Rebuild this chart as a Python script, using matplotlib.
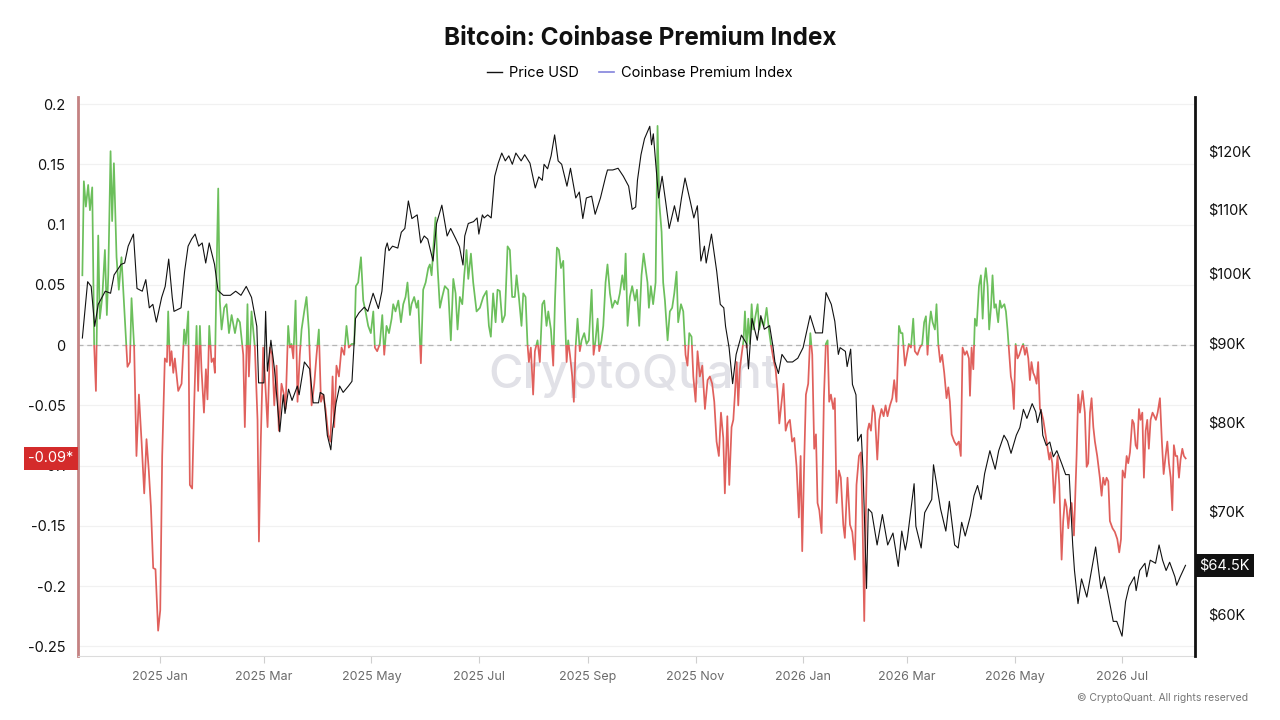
import numpy as np
import pandas as pd
import matplotlib
matplotlib.use("Agg")
import matplotlib.pyplot as plt
import matplotlib.dates as mdates
import matplotlib.transforms as mtransforms
from matplotlib.patches import Rectangle
from matplotlib.lines import Line2D
from matplotlib.ticker import FixedLocator, FuncFormatter, NullLocator

plt.rcParams["font.family"] = ["Inter", "DejaVu Sans"]

########## DATA ##########
START = pd.Timestamp("2024-11-18")

# Price USD (thousands), days since START
price_days = [
    0, 3, 5, 7, 9, 13, 16, 18, 22, 24,
    26, 29, 31, 34, 36, 38, 40, 42, 45, 47,
    49, 51, 52, 56, 58, 60, 62, 64, 66, 68,
    70, 72, 75, 77, 80, 84, 87, 90, 93, 96,
    99, 100, 103, 104, 105, 107, 109, 112, 114, 115,
    117, 119, 122, 123, 126, 129, 131, 134, 135, 137,
    139, 141, 142, 144, 146, 148, 151, 153, 155, 157,
    160, 162, 165, 168, 170, 172, 173, 174, 176, 179,
    181, 183, 185, 187, 190, 192, 194, 196, 199, 201,
    204, 207, 209, 212, 214, 216, 217, 219, 222, 224,
    225, 227, 228, 230, 232, 234, 236, 238, 240, 242,
    244, 246, 249, 251, 254, 257, 259, 261, 262, 264,
    266, 268, 270, 272, 275, 277, 279, 280, 282, 284,
    286, 289, 291, 294, 297, 298, 301, 304, 307, 310,
    312, 314, 315, 317, 319, 322, 323, 324, 327, 329,
    331, 333, 336, 338, 340, 342, 345, 347, 349, 351,
    353, 354, 357, 360, 362, 364, 365, 367, 369, 371,
    374, 377, 378, 380, 383, 385, 387, 390, 392, 393,
    395, 397, 400, 403, 406, 409, 413, 416, 420, 422,
    425, 427, 429, 430, 433, 434, 436, 437, 439, 440,
    442, 443, 445, 446, 448, 451, 454, 457, 460, 463,
    465, 467, 468, 472, 473, 476, 478, 482, 483, 487,
    490, 492, 495, 497, 499, 501, 504, 506, 508, 510,
    512, 515, 518, 520, 523, 525, 527, 530, 532, 534,
    536, 539, 541, 542, 544, 545, 547, 549, 551, 553,
    556, 558, 560, 562, 563, 565, 567, 570, 572, 575,
    578, 580, 582, 585, 587, 590, 592, 594, 597, 598,
    600, 603, 604, 606, 609, 611, 613, 615, 617, 620,
    621, 623, 626,
]
price_k = [
    90.7, 98.7, 98.0, 92.3, 95.4, 97.3, 97.0, 99.7, 101.3, 101.5,
    104.1, 106.0, 97.7, 97.3, 99.0, 94.9, 95.4, 92.9, 96.4, 98.0,
    102.1, 96.4, 94.4, 94.9, 100.2, 104.1, 105.2, 106.0, 104.1, 104.6,
    101.5, 104.6, 101.3, 97.4, 96.7, 96.7, 97.3, 96.7, 98.0, 96.4,
    92.3, 84.8, 84.8, 94.4, 86.3, 90.4, 86.6, 78.8, 83.3, 81.0,
    84.0, 82.6, 84.4, 83.3, 87.5, 86.6, 82.3, 82.3, 83.6, 83.3,
    78.4, 76.7, 79.1, 82.3, 84.4, 83.6, 84.4, 85.0, 93.4, 94.2,
    95.0, 94.4, 97.0, 94.8, 97.3, 103.7, 104.6, 103.4, 104.1, 103.8,
    106.3, 106.9, 111.4, 108.5, 109.1, 104.6, 105.7, 105.2, 101.8, 107.7,
    110.7, 105.7, 106.9, 105.2, 104.0, 101.2, 105.7, 107.7, 108.0, 108.6,
    106.0, 109.1, 108.6, 109.1, 108.6, 115.6, 117.9, 119.7, 118.3, 119.2,
    117.7, 119.7, 118.3, 119.4, 117.9, 113.6, 115.5, 114.9, 117.7, 116.9,
    119.2, 123.0, 118.3, 117.7, 113.9, 117.0, 113.6, 111.9, 112.9, 108.5,
    111.9, 112.2, 109.2, 111.9, 115.6, 116.7, 116.7, 117.0, 115.6, 113.9,
    110.0, 110.4, 114.9, 119.4, 122.3, 124.6, 121.2, 123.2, 111.9, 115.6,
    111.3, 106.9, 110.6, 108.0, 111.9, 115.3, 111.3, 108.6, 110.6, 101.8,
    104.1, 101.5, 106.0, 100.2, 95.4, 94.9, 92.3, 89.4, 84.7, 88.5,
    91.1, 89.9, 86.6, 93.4, 90.4, 93.8, 91.9, 92.4, 89.4, 87.5,
    86.0, 88.5, 87.5, 87.5, 88.0, 89.4, 93.8, 91.4, 91.4, 97.1,
    95.4, 93.0, 88.5, 89.4, 88.9, 86.9, 89.2, 84.6, 83.3, 77.7,
    78.5, 74.5, 62.3, 70.2, 69.8, 66.5, 69.6, 66.5, 67.7, 64.4,
    67.9, 66.0, 66.9, 72.9, 68.4, 66.2, 69.8, 71.2, 75.0, 70.2,
    67.9, 71.0, 66.5, 66.2, 68.8, 67.4, 69.5, 71.6, 72.7, 71.2,
    74.0, 76.6, 74.5, 76.6, 78.4, 77.7, 76.3, 78.4, 79.3, 81.5,
    80.4, 82.2, 81.2, 79.9, 81.5, 78.4, 77.2, 77.6, 75.9, 76.6,
    75.0, 73.9, 73.9, 66.5, 64.0, 60.9, 63.2, 61.5, 63.4, 66.3,
    62.3, 63.4, 61.8, 59.3, 59.3, 58.0, 61.1, 62.5, 63.4, 62.1,
    64.0, 64.7, 63.4, 65.0, 64.7, 66.5, 65.0, 64.0, 64.8, 63.4,
    62.6, 63.4, 64.5,
]

# Coinbase Premium Index, days since START
premium_days = [
    0.0, 0.85, 2.0, 3.3, 4.3, 5.6, 6.7, 7.7, 9.0, 9.9,
    11.3, 12.8, 13.9, 14.7, 16.0, 16.9, 17.9, 19.4, 20.7, 22.2,
    24.1, 25.6, 27.0, 27.9, 29.4, 30.7, 32.1, 33.6, 35.1, 36.4,
    37.7, 38.9, 40.2, 41.5, 43.0, 44.2, 45.3, 46.8, 48.0, 48.7,
    49.7, 50.6, 51.6, 52.5, 54.4, 56.3, 57.8, 58.7, 60.1, 61.0,
    62.3, 63.5, 64.8, 65.7, 66.7, 67.6, 69.0, 70.1, 71.0, 72.0,
    73.3, 74.4, 75.2, 76.2, 77.1, 78.0, 79.0, 80.5, 81.8, 83.2,
    84.7, 86.6, 88.1, 89.4, 91.3, 92.2, 93.7, 94.5, 96.0, 97.9,
    99.4, 100.2, 101.3, 102.6,
    103.6, 105.1, 106.4, 107.7, 108.9, 110.2, 111.5, 113.0, 114.4, 115.3,
    116.8, 117.8, 118.7, 119.7, 121.0, 122.1, 123.4, 124.4, 125.9, 127.2,
    128.5, 130.1, 131.6, 132.9, 134.2, 135.4, 136.7, 138.0, 139.5, 140.8,
    142.0, 142.9, 144.2, 145.6, 147.1, 148.6, 149.9, 151.2, 152.8, 154.3,
    155.2, 156.5, 158.1, 159.4, 160.7, 162.2, 163.7, 165.1, 166.0, 167.3,
    168.8, 170.2, 171.3, 172.6, 174.0, 175.5, 176.4, 177.7, 179.3, 180.8,
    182.1, 183.4, 184.5, 185.9, 186.8, 188.3, 189.7, 190.6, 192.1, 193.4,
    194.8, 196.3, 197.2, 198.2, 199.1, 200.4, 201.6, 202.9, 204.2, 205.7,
    207.6, 209.1, 210.5, 211.8,
    212.9, 214.2, 215.6, 216.7, 218.0, 219.0, 220.5, 221.8, 223.7, 225.6,
    227.5, 229.4, 230.7, 231.8, 233.1, 234.5, 235.6, 236.9, 238.3, 239.8,
    241.3, 242.6, 243.9, 245.4, 246.4, 247.7, 249.2, 250.2, 251.5, 252.6,
    253.4, 254.5, 255.8, 256.8, 258.3, 259.6, 261.0, 262.1, 263.4, 264.4,
    265.9, 267.2, 268.2, 269.3, 270.4, 271.6, 272.9, 273.8, 274.8, 275.7,
    276.7, 278.0, 278.9, 279.9, 281.0, 282.3, 283.3, 284.8, 286.1, 287.4,
    289.0, 290.1, 291.2, 292.4, 293.3, 294.6, 295.6, 296.9, 298.0, 299.4,
    300.7, 302.2, 303.7, 305.0, 306.4, 307.5, 308.3, 309.4, 310.7, 312.0,
    313.6, 314.7, 316.0, 317.3, 318.5,
    320.7, 321.5, 322.6, 323.9, 325.3, 326.4, 327.4, 328.7, 329.6, 330.6,
    332.1, 333.4, 334.7, 335.9, 337.2, 338.1, 339.7, 341.0, 342.3, 343.4,
    344.4, 345.7, 346.7, 348.0, 349.1, 350.4, 351.8, 353.3, 354.8, 356.1,
    357.4, 358.6, 359.9, 361.2, 362.4, 363.7, 364.6, 366.0, 367.1, 368.4,
    369.4, 370.3, 371.3, 372.2, 373.1, 374.1, 375.2, 376.0, 376.9, 377.9,
    378.8, 379.8, 380.7, 381.7, 383.2, 384.1, 385.4, 386.8, 388.3, 389.6,
    390.7, 392.1, 393.4, 394.5, 395.5, 396.8, 397.9, 399.1, 400.2, 401.5,
    402.8, 404.0, 405.3, 406.6, 407.6, 408.5, 409.7, 410.6, 411.9, 413.1,
    414.2, 415.3, 416.3, 417.2, 418.2, 419.5, 420.8, 421.9, 422.9, 423.8,
    424.8, 426.1,
    427.0, 428.0, 429.3, 430.4, 431.8, 432.7, 434.2, 435.6, 436.9, 438.4,
    439.3, 440.7, 441.8, 442.7, 443.7, 444.6, 445.6, 446.5, 447.5, 448.6,
    449.7, 451.1, 452.2, 453.5, 454.7, 455.8, 456.9, 458.3, 459.6, 460.7,
    462.0, 463.4, 464.5, 465.4, 466.8, 467.9, 469.0, 470.2, 471.5, 472.4,
    473.9, 475.3, 476.6, 477.7, 478.7, 479.6, 480.6, 481.5, 482.5, 483.8,
    484.7, 485.7, 486.8, 487.9, 489.1, 490.4, 491.4, 492.3, 493.3, 494.8,
    496.1, 497.4, 498.5, 499.5, 500.8, 501.9, 503.1, 503.7, 504.6, 505.6,
    506.5, 507.5, 508.8, 509.9, 510.9, 511.8, 512.7, 513.7, 514.6, 515.6,
    516.5, 517.5, 518.4, 519.7, 520.7, 521.6, 523.2, 524.1, 525.0, 526.0,
    526.9, 527.7, 528.6, 529.6, 530.7, 531.7,
    533.0, 533.9, 534.9, 535.8, 536.8, 537.7, 538.6, 539.6, 540.5, 541.5,
    542.4, 543.4, 544.3, 545.3, 547.2, 548.7, 549.4, 550.4, 551.5, 552.5,
    553.4, 554.4, 555.7, 556.6, 557.6, 558.5, 559.5, 560.4, 561.4, 562.7,
    564.2, 565.1, 566.1, 567.6, 568.9, 569.9, 570.8, 571.8, 572.7, 573.7,
    574.6, 575.9, 577.4, 578.4, 579.3, 580.3, 581.2, 582.2, 583.1, 584.6,
    585.9, 587.3, 588.4, 589.4, 590.3, 591.6, 592.6, 593.5, 594.5, 595.8,
    596.7, 597.7, 598.6, 599.6, 600.5, 601.5, 602.4, 603.4, 604.3, 605.2,
    606.2, 607.3, 608.3, 609.2, 610.2, 611.5, 612.6, 613.6, 614.7, 615.7,
    616.6, 617.6, 618.5, 619.4, 620.4, 621.3, 622.3, 623.2, 624.2, 625.1,
    626.1,
]
premium_index = [
    0.058, 0.136, 0.115, 0.133, 0.112, 0.131, 0.000, -0.038, 0.091, 0.022,
    0.040, 0.079, 0.025, 0.058, 0.161, 0.103, 0.151, 0.073, 0.046, 0.073,
    0.022, -0.018, -0.014, 0.039, -0.002, -0.092, -0.041, -0.080, -0.123, -0.078,
    -0.104, -0.134, -0.185, -0.186, -0.237, -0.220, -0.092, -0.011, -0.014, 0.028,
    -0.017, -0.005, -0.023, -0.011, -0.038, -0.032, 0.013, 0.001, 0.028, -0.116,
    -0.119, -0.047, 0.016, -0.038, 0.016, -0.020, -0.056, -0.020, -0.045, 0.016,
    -0.014, -0.011, -0.023, 0.064, 0.130, 0.037, 0.013, 0.031, 0.034, 0.010,
    0.025, 0.010, 0.022, 0.019, -0.008, -0.068, 0.034, -0.026, 0.028, -0.002,
    -0.062, -0.163, -0.077, -0.002,
    -0.026, -0.068, -0.002, -0.008, -0.050, -0.017, -0.071, -0.032, -0.041, -0.053,
    0.016, -0.002, 0.001, -0.011, 0.037, -0.047, -0.008, 0.013, 0.028, 0.040,
    0.013, -0.050, -0.032, -0.008, 0.013, -0.047, -0.041, -0.053, -0.074, -0.080,
    -0.026, -0.068, -0.017, -0.026, -0.002, -0.008, 0.016, -0.002, 0.001, 0.001,
    0.049, 0.052, 0.073, 0.037, 0.028, 0.016, 0.010, 0.028, -0.002, -0.005,
    0.001, 0.025, -0.008, 0.016, 0.010, 0.022, 0.034, 0.028, 0.037, 0.019,
    0.034, 0.040, 0.052, 0.025, 0.034, 0.040, 0.031, 0.037, -0.015, 0.046,
    0.052, 0.064, 0.067, 0.058, 0.079, 0.106, 0.064, 0.031, 0.040, 0.049,
    0.046, 0.004, 0.055, 0.043,
    0.013, 0.040, 0.034, 0.058, 0.079, 0.055, 0.076, 0.052, 0.028, 0.031,
    0.040, 0.045, 0.016, 0.007, 0.043, 0.019, 0.046, 0.045, 0.019, 0.025,
    0.082, 0.079, 0.040, 0.040, 0.058, 0.040, 0.016, 0.043, 0.040, 0.001,
    -0.014, -0.002, -0.041, -0.005, 0.004, -0.014, 0.034, 0.037, 0.016, 0.028,
    0.013, -0.017, 0.037, 0.081, 0.079, 0.064, 0.070, 0.028, -0.014, 0.004,
    -0.008, -0.026, -0.047, -0.002, 0.022, -0.005, 0.004, 0.010, 0.001, 0.004,
    0.046, -0.008, 0.004, 0.022, -0.005, 0.004, 0.016, 0.052, 0.067, 0.043,
    0.031, 0.037, 0.034, 0.043, 0.058, 0.046, 0.076, 0.016, 0.040, 0.049,
    0.037, 0.046, 0.016, 0.058, 0.076,
    0.052, 0.031, 0.049, 0.034, 0.052, 0.182, 0.118, 0.094, 0.052, 0.037,
    0.004, 0.028, 0.031, 0.043, 0.061, 0.019, 0.034, 0.028, -0.008, -0.017,
    0.010, 0.007, -0.026, -0.047, -0.005, -0.026, -0.017, -0.053, -0.029, -0.026,
    -0.032, -0.047, -0.080, -0.092, -0.056, -0.077, -0.123, -0.059, -0.116, -0.068,
    -0.062, -0.041, -0.014, -0.050, -0.020, -0.008, 0.004, 0.028, -0.002, 0.022,
    0.001, 0.034, 0.013, 0.022, 0.034, 0.013, 0.022, 0.016, 0.031, 0.013,
    0.001, -0.011, -0.020, -0.038, -0.065, -0.047, -0.032, -0.071, -0.065, -0.062,
    -0.080, -0.077, -0.101, -0.143, -0.092, -0.171, -0.092, -0.041, -0.032, 0.010,
    -0.008, -0.086, -0.074, -0.131, -0.137, -0.156, -0.044, 0.001, 0.004, -0.047,
    -0.041, -0.053,
    -0.044, -0.131, -0.104, -0.110, -0.149, -0.160, -0.110, -0.149, -0.155, -0.178,
    -0.116, -0.092, -0.089, -0.143, -0.229, -0.140, -0.071, -0.065, -0.071, -0.050,
    -0.056, -0.095, -0.062, -0.053, -0.059, -0.050, -0.059, -0.050, -0.044, -0.029,
    -0.047, 0.016, 0.010, 0.010, -0.017, -0.008, 0.001, -0.002, 0.022, -0.005,
    -0.008, -0.002, 0.001, 0.019, 0.024, -0.008, 0.016, 0.028, 0.019, 0.013,
    0.034, 0.001, -0.014, -0.008, -0.023, -0.044, -0.035, -0.047, -0.074, -0.080,
    -0.083, -0.080, -0.092, -0.002, -0.008, -0.005, -0.011, -0.042, -0.002, -0.020,
    0.022, 0.016, 0.049, 0.058, 0.022, 0.052, 0.064, 0.049, 0.013, 0.031,
    0.058, 0.031, 0.034, 0.019, 0.037, 0.031, 0.034, 0.028, 0.013, -0.008,
    -0.026, -0.032, -0.053, 0.001, -0.011, -0.008,
    -0.002, 0.001, -0.008, -0.002, -0.011, -0.029, -0.014, -0.023, -0.026, -0.032,
    -0.014, -0.053, -0.056, -0.062, -0.080, -0.095, -0.089, -0.098, -0.131, -0.107,
    -0.092, -0.116, -0.178, -0.146, -0.128, -0.134, -0.152, -0.137, -0.131, -0.158,
    -0.092, -0.041, -0.056, -0.038, -0.056, -0.101, -0.098, -0.056, -0.044, -0.068,
    -0.080, -0.092, -0.110, -0.125, -0.110, -0.116, -0.110, -0.113, -0.146, -0.152,
    -0.155, -0.161, -0.172, -0.161, -0.104, -0.110, -0.092, -0.098, -0.089, -0.062,
    -0.065, -0.083, -0.086, -0.053, -0.062, -0.056, -0.110, -0.071, -0.062, -0.086,
    -0.062, -0.056, -0.059, -0.062, -0.056, -0.044, -0.080, -0.107, -0.092, -0.080,
    -0.098, -0.110, -0.137, -0.083, -0.092, -0.092, -0.110, -0.095, -0.086, -0.092,
    -0.094,
]

left_ticks = [0.2, 0.15, 0.1, 0.05, 0, -0.05, -0.1, -0.15, -0.2, -0.25]
right_ticks = [60, 70, 80, 90, 100, 110, 120]

GREEN = "#6cbf5c"
RED = "#e0605c"
PREMIUM_LEGEND = "#8383dc"


def to_dates(days):
    return START + pd.to_timedelta(np.asarray(days, dtype=float), unit="D")


def main():
    price_dates = to_dates(price_days)
    premium_dates = to_dates(premium_days)

    fig = plt.figure(figsize=(12.8, 7.2), dpi=100)
    ax = fig.add_axes([0.0609, 0.0889, 0.8727, 0.7764])
    ax2 = ax.twinx()

    ########## LEFT AXIS - PREMIUM ##########
    ax.set_ylim(-0.258, 0.206)
    ax.set_xlim(START - pd.Timedelta(days=2.5), START + pd.Timedelta(days=631.4))
    ax.yaxis.set_major_locator(FixedLocator(left_ticks))
    ax.yaxis.set_major_formatter(FuncFormatter(lambda v, p: "{:g}".format(round(v, 3))))
    ax.yaxis.grid(True, color="#f1f1f1", linewidth=0.9)
    ax.set_axisbelow(True)
    ax.axhline(0, color="#b5b5b5", linewidth=0.9, linestyle=(0, (4, 3)), zorder=1)

    ax.text(0.497, 0.50, "CryptoQuant", transform=ax.transAxes, fontsize=34,
            fontweight="medium", color="#e1e1e7", ha="center", va="center", zorder=0.5)

    blend = mtransforms.blended_transform_factory(ax.transAxes, ax.transData)
    upper = Rectangle((0, 0), 1, 1, transform=blend)
    lower = Rectangle((0, -1), 1, 1, transform=blend)
    g, = ax.plot(premium_dates, premium_index, color=GREEN, linewidth=1.25, zorder=2)
    g.set_clip_path(upper)
    r, = ax.plot(premium_dates, premium_index, color=RED, linewidth=1.25, zorder=2)
    r.set_clip_path(lower)

    ax.xaxis.set_major_locator(mdates.MonthLocator(bymonth=[1, 3, 5, 7, 9, 11]))
    ax.xaxis.set_major_formatter(mdates.DateFormatter("%Y %b"))
    ax.tick_params(axis="x", labelsize=9, labelcolor="#6b6b6b", color="#cfcfcf",
                   length=5, width=0.8, pad=6)
    ax.tick_params(axis="y", labelsize=10.5, labelcolor="#111111", length=0, pad=9)

    for side in ["top", "right"]:
        ax.spines[side].set_visible(False)
    ax.spines["bottom"].set_color("#dcdcdc")
    ax.spines["left"].set_color("#c48282")
    ax.spines["left"].set_linewidth(2)

    ########## RIGHT AXIS - PRICE ##########
    ax2.plot(price_dates, price_k, color="#111111", linewidth=0.8, zorder=3)
    ax2.set_yscale("log")
    ax2.set_ylim(56.3, 130.2)
    ax2.yaxis.set_major_locator(FixedLocator(right_ticks))
    ax2.yaxis.set_minor_locator(NullLocator())
    ax2.yaxis.set_major_formatter(FuncFormatter(lambda v, p: "${:g}K".format(v)))
    ax2.tick_params(axis="y", which="both", labelsize=10.5, labelcolor="#111111",
                    length=0, pad=9.5)
    for side in ["top", "left", "bottom"]:
        ax2.spines[side].set_visible(False)
    ax2.spines["right"].set_color("#111111")
    ax2.spines["right"].set_linewidth(2)

    ########## LAST VALUE LABELS ##########
    ax.text(-0.004, premium_index[-1], "{:.2f}*".format(premium_index[-1]),
            transform=blend, ha="right", va="center", color="white", fontsize=10.5,
            zorder=10, clip_on=False,
            bbox=dict(boxstyle="square,pad=0.3", facecolor="#d42b2b", edgecolor="none"))
    blend2 = mtransforms.blended_transform_factory(ax2.transAxes, ax2.transData)
    ax2.text(1.004, price_k[-1], "${:.1f}K".format(price_k[-1]), transform=blend2,
             ha="left", va="center", color="white", fontsize=10.5, zorder=10,
             clip_on=False,
             bbox=dict(boxstyle="square,pad=0.3", facecolor="#111111", edgecolor="none"))

    ########## TITLE, LEGEND, CREDIT ##########
    fig.text(0.5, 0.947, "Bitcoin: Coinbase Premium Index", ha="center", va="center",
             fontsize=17.5, fontweight="bold", color="#111111")
    handles = [Line2D([], [], color="#111111", linewidth=1.0),
               Line2D([], [], color=PREMIUM_LEGEND, linewidth=1.2)]
    fig.legend(handles, ["Price USD", "Coinbase Premium Index"], loc="center",
               bbox_to_anchor=(0.5, 0.898), ncol=2, frameon=False, fontsize=10.5,
               handlelength=1.0, handletextpad=0.5, columnspacing=1.4)
    fig.text(0.975, 0.031, "\u00a9 CryptoQuant. All rights reserved", ha="right",
             va="center", fontsize=7.5, color="#777777")

    fig.savefig("out.png", dpi=100)
    plt.close(fig)


if __name__ == "__main__":
    main()
